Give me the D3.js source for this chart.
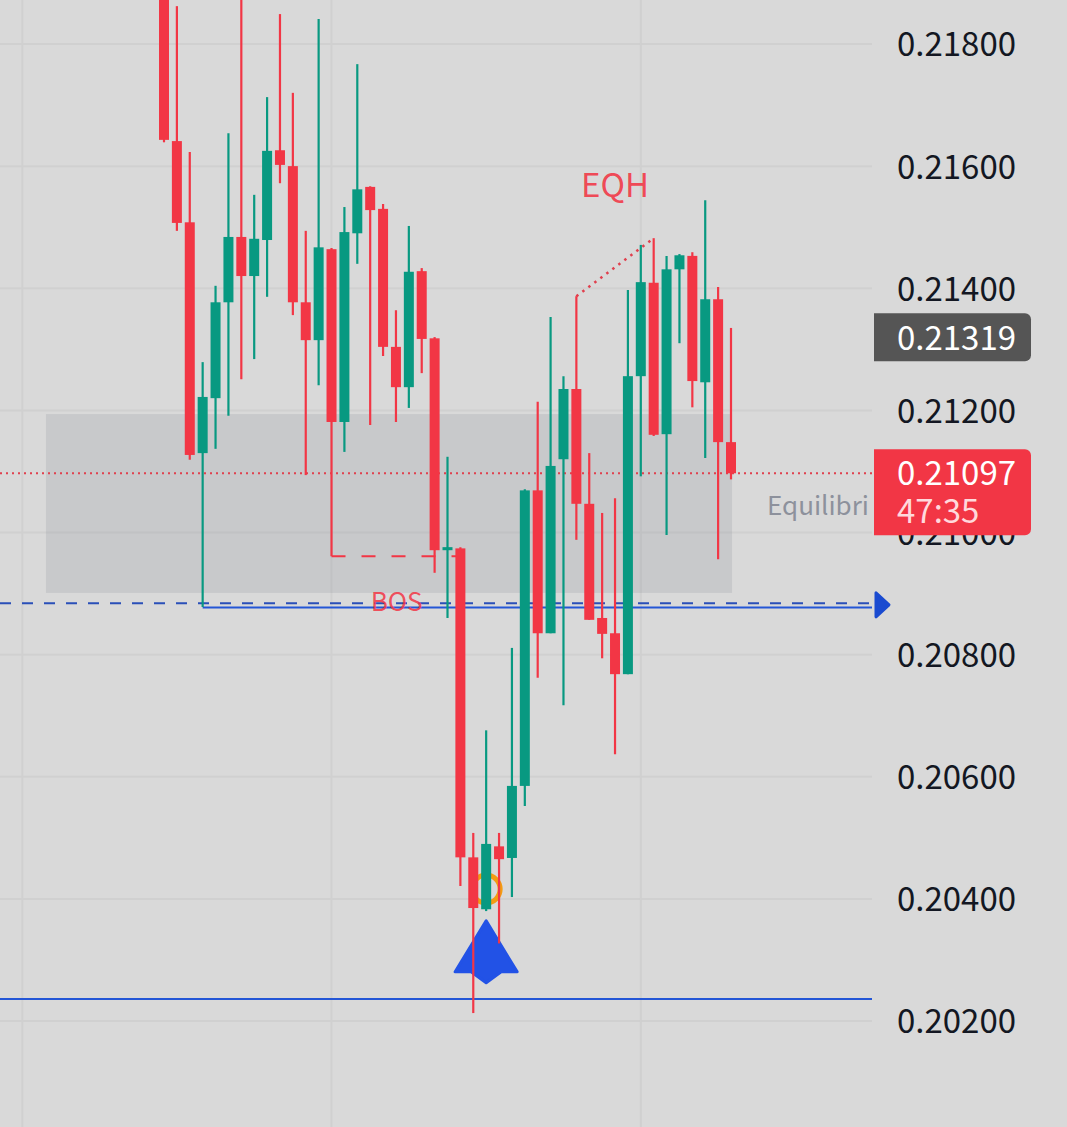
<!DOCTYPE html>
<html><head><meta charset="utf-8">
<script src="https://cdn.jsdelivr.net/npm/d3@7/dist/d3.min.js"></script>
<style>html,body{margin:0;padding:0;background:#d9d9d9;overflow:hidden}svg{display:block}
text{font-family:"Noto Sans CJK SC","Noto Sans",sans-serif}</style></head><body>
<svg id="c" width="1067" height="1127"></svg>
<script>
const opens=[.21905,.21641,.21508,.21130,.21220,.21377,.21484,.21420,.21479,.21626,.21600,.21377,.21315,.21464,.21181,.21490,.21566,.21530,.21304,.21238,.21428,.21318,.20971,.20974,.20468,.20383,.20486,.20467,.20585,.21069,.20835,.21120,.21235,.21047,.20860,.20835,.20768,.21256,.21409,.21161,.21431,.21453,.21246,.21382,.21148];
const highs=[.21938,.21862,.21623,.21279,.21404,.21654,.21938,.21553,.21713,.21849,.21720,.21494,.21841,.21466,.21533,.21767,.21567,.21538,.21364,.21502,.21433,.21320,.21124,.20976,.20508,.20676,.20508,.20811,.21071,.21214,.21353,.21256,.21387,.21130,.21032,.21056,.21397,.21471,.21482,.21453,.21456,.21459,.21544,.21402,.21335];
const lows=[.21639,.21494,.21119,.20878,.21137,.21191,.21251,.21284,.21386,.21572,.21356,.21094,.21241,.20961,.21132,.21440,.21176,.21289,.21181,.21204,.21261,.20934,.20860,.20421,.20213,.20380,.20327,.20403,.20552,.20762,.20835,.20717,.20988,.20857,.20794,.20637,.20768,.21092,.21158,.20996,.21310,.21205,.21122,.20956,.21087];
const closes=[.21643,.21507,.21127,.21222,.21377,.21484,.21420,.21481,.21625,.21602,.21377,.21315,.21467,.21181,.21492,.21562,.21528,.21304,.21238,.21427,.21317,.20971,.20976,.20468,.20385,.20490,.20465,.20585,.21069,.20835,.21109,.21235,.21047,.20857,.20834,.20768,.21256,.21410,.21160,.21431,.21454,.21248,.21382,.21148,.21097];
const priceTicks=[.218,.216,.214,.212,.21,.208,.206,.204,.202];
const timeGridIdx=[-11,13,37];
const zone={x0:-9.16,x1:44.08,hi:.21194,lo:.20901};
const lastPrice=.21097, otherPrice=.21319, countdown="47:35";
const blueSolid=.20877, blueDash=.20884, blueLow=.20236, bosLevel=.20961;

const W=1067,H=1127,plotR=872;
const x=d3.scaleLinear().domain([0,44]).range([164,731]);
const y=d3.scaleLinear().domain([.218,.202]).range([44,1021]);
const svg=d3.select('#c');
const red='#f23645',green='#089981',blue='#2456d6';
svg.append('rect').attr('width',W).attr('height',H).attr('fill','#d9d9d9');

const grid=svg.append('g').attr('stroke','#d0d0d0').attr('stroke-width',2);
grid.selectAll('.h').data(priceTicks).join('line').attr('x1',0).attr('x2',plotR).attr('y1',d=>y(d)).attr('y2',d=>y(d));
grid.selectAll('.v').data(timeGridIdx).join('line').attr('x1',d=>x(d)).attr('x2',d=>x(d)).attr('y1',0).attr('y2',H);

svg.append('rect').attr('x',x(zone.x0)).attr('width',x(zone.x1)-x(zone.x0)).attr('y',y(zone.hi)).attr('height',y(zone.lo)-y(zone.hi)).attr('fill','rgba(120,123,134,.17)');

// last price line
svg.append('line').attr('x1',0).attr('x2',plotR).attr('y1',y(lastPrice)).attr('y2',y(lastPrice)).attr('stroke','#e0404e').attr('stroke-width',2).attr('stroke-dasharray','2 4');

// blue levels
svg.append('line').attr('x1',0).attr('x2',plotR).attr('y1',y(blueDash)).attr('y2',y(blueDash)).attr('stroke','#2a4fb8').attr('stroke-width',2).attr('stroke-dasharray','11 11');
svg.append('line').attr('x1',x(3)).attr('x2',plotR).attr('y1',y(blueSolid)).attr('y2',y(blueSolid)).attr('stroke',blue).attr('stroke-width',2);
svg.append('line').attr('x1',0).attr('x2',plotR).attr('y1',y(blueLow)).attr('y2',y(blueLow)).attr('stroke',blue).attr('stroke-width',2);

// orange circle and arrow marker at candle 25
svg.append('circle').attr('cx',x(25)).attr('cy',y(lows[25])-22).attr('r',14).attr('fill','none').attr('stroke','#f39c12').attr('stroke-width',5);
const ax=x(25),ay=y(.2031);
svg.append('path').attr('d','M0,-33 L-31,18 L-15,18 L0,29 L15,18 L31,18 Z').attr('transform',`translate(${ax},${ay})`).attr('fill','#2252e6').attr('stroke','#2252e6').attr('stroke-width',3).attr('stroke-linejoin','round');

// BOS dashed + EQH dotted
svg.append('line').attr('x1',x(13)).attr('x2',x(23)).attr('y1',y(bosLevel)).attr('y2',y(bosLevel)).attr('stroke',red).attr('stroke-width',2).attr('stroke-dasharray','14 16');
svg.append('line').attr('x1',x(32)).attr('x2',x(38)).attr('y1',y(highs[32])).attr('y2',y(highs[38])).attr('stroke','#e0404e').attr('stroke-width',2.5).attr('stroke-dasharray','2.5 5');

// candles
const idx=d3.range(opens.length);
const col=i=>closes[i]>=opens[i]?green:red;
const c=svg.append('g');
c.selectAll('.w').data(idx).join('line').attr('x1',i=>x(i)).attr('x2',i=>x(i)).attr('y1',i=>y(highs[i])).attr('y2',i=>y(lows[i])).attr('stroke',col).attr('stroke-width',2.2);
c.selectAll('.b').data(idx).join('rect').attr('x',i=>x(i)-5).attr('width',10)
 .attr('y',i=>y(Math.max(opens[i],closes[i]))).attr('height',i=>Math.max(2,Math.abs(y(opens[i])-y(closes[i])))).attr('fill',col);

// text labels
svg.append('text').attr('x',x(35)).attr('y',y(.21573)).attr('text-anchor','middle').attr('dominant-baseline','central').attr('font-size',33).attr('fill',red).attr('fill-opacity',.9).text('EQH');
svg.append('text').attr('x',x(18.05)).attr('y',y(.20891)).attr('text-anchor','middle').attr('dominant-baseline','central').attr('font-size',26).attr('fill',red).attr('fill-opacity',.85).text('BOS');
svg.append('text').attr('x',767).attr('y',y(.21048)).attr('dominant-baseline','central').attr('font-size',26).attr('fill','#8d919c').text('Equilibri');

// axis
const axis=d3.axisRight(y).tickValues(priceTicks).tickFormat(d3.format('.5f')).tickSize(0).tickPadding(0);
const ag=svg.append('g').attr('transform','translate(897,1)').call(axis);
ag.select('.domain').remove();
ag.selectAll('text').attr('font-size',33).attr('fill','#131722').attr('dy','.33em').attr('font-family','"Noto Sans CJK SC"');

// price tags
function tag(top,h,fill){svg.append('path').attr('d',`M874,${top}H1025a6,6 0 0 1 6,6V${top+h-6}a6,6 0 0 1 -6,6H874Z`).attr('fill',fill);}
tag(y(otherPrice)-24.5,48,'#555555');
tag(y(lastPrice)-24,86,red);
const f5=d3.format('.5f');
svg.append('text').attr('x',897).attr('y',y(otherPrice)+1).attr('dy','.33em').attr('font-size',33).attr('fill','#fff').text(f5(otherPrice));
svg.append('text').attr('x',897).attr('y',y(lastPrice)+1).attr('dy','.33em').attr('font-size',33).attr('fill','#fff').text(f5(lastPrice));
svg.append('text').attr('x',897).attr('y',y(lastPrice)+39).attr('dy','.33em').attr('font-size',33).attr('fill','#ffd9dc').text(countdown);

// blue right arrow
svg.append('path').attr('d','M0,-12 L13,0 L0,12 Z').attr('transform',`translate(876,${y(blueDash)+1.5})`).attr('fill','#1a4bd0').attr('stroke','#1a4bd0').attr('stroke-width',3).attr('stroke-linejoin','round');
</script></body></html>
